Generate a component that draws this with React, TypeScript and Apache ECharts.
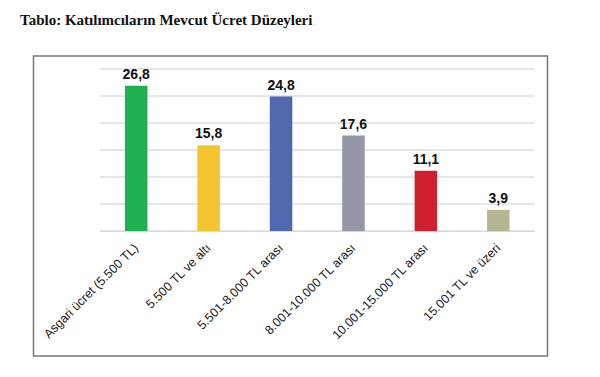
import React, { useEffect, useRef } from "react";
import * as echarts from "echarts";

const categories = [
  "Asgari ücret (5.500 TL)",
  "5.500 TL ve altı",
  "5.501-8.000 TL arası",
  "8.001-10.000 TL arası",
  "10.001-15.000 TL arası",
  "15.001 TL ve üzeri",
];
const values = [26.8, 15.8, 24.8, 17.6, 11.1, 3.9];
const colors = ["#1fb14f", "#f4c430", "#5068ad", "#9596a8", "#cf2030", "#b5b58f"];
const title = "Tablo: Katılımcıların Mevcut Ücret Düzeyleri";

export default function App() {
  const ref = useRef<HTMLDivElement>(null);
  useEffect(() => {
    document.body.style.margin = "0";
    const chart = echarts.init(ref.current!, null, { renderer: "svg" });
    chart.setOption({
      animation: false,
      backgroundColor: "#ffffff",
      graphic: [
        {
          type: "text",
          left: 20,
          top: 12,
          style: {
            text: title,
            font: "bold 15px 'Liberation Serif', 'Times New Roman', serif",
            fill: "#111",
          },
        },
        {
          type: "rect",
          shape: { x: 33.5, y: 56, width: 514, height: 300 },
          style: { fill: "none", stroke: "#777", lineWidth: 1.5 },
          z: -1,
        },
      ],
      grid: { left: 100, right: 65.5, top: 68.3, bottom: 146 },
      xAxis: {
        type: "category",
        data: categories,
        axisLine: { lineStyle: { color: "#d9d9d9", width: 1 } },
        axisTick: { show: false },
        axisLabel: {
          rotate: 45,
          interval: 0,
          margin: 15,
          color: "#222",
          fontSize: 12.5,
          fontFamily: "'Liberation Sans', Arial, sans-serif",
        },
      },
      yAxis: {
        type: "value",
        min: 0,
        max: 30,
        interval: 5,
        axisLabel: { show: false },
        axisLine: { show: false },
        axisTick: { show: false },
        splitLine: { lineStyle: { color: "#dedede", width: 1.5 } },
      },
      series: [
        {
          type: "bar",
          data: values.map((v, i) => ({ value: v, itemStyle: { color: colors[i] } })),
          barWidth: 22.5,
          label: {
            show: true,
            position: "top",
            distance: 5,
            formatter: (p: any) => String(p.value).replace(".", ","),
            fontSize: 14,
            fontWeight: "bold",
            color: "#111",
            fontFamily: "'Liberation Sans', Arial, sans-serif",
          },
        },
      ],
    });
    return () => chart.dispose();
  }, []);
  return <div ref={ref} style={{ width: 600, height: 377 }} />;
}
